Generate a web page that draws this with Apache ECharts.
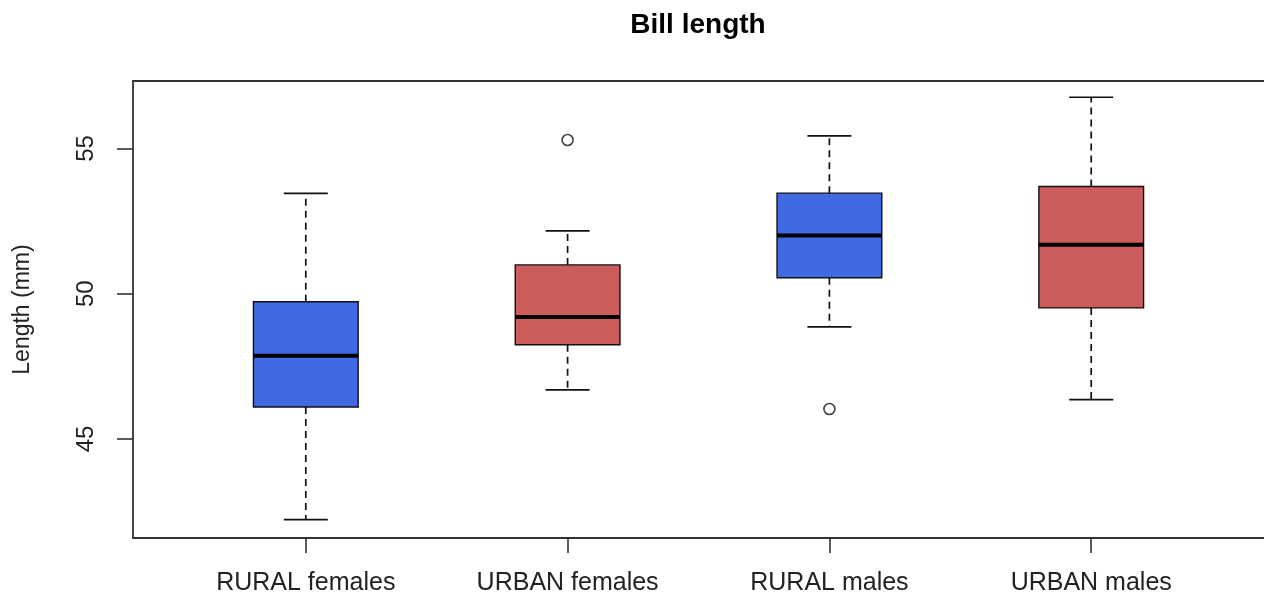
<!DOCTYPE html>
<html>
<head>
<meta charset="utf-8">
<script src="https://cdn.jsdelivr.net/npm/echarts@6/dist/echarts.min.js"></script>
<style>
html,body{margin:0;padding:0;background:#fff;}
#chart{width:1264px;height:596px;}
</style>
</head>
<body>
<div id="chart"></div>
<script>
const categories = ['RURAL females', 'URBAN females', 'RURAL males', 'URBAN males'];
const lowWhisker = [42.22, 46.69, 48.86, 46.35];
const q1 = [46.10, 48.24, 50.55, 49.51];
const median = [47.86, 49.20, 52.00, 51.68];
const q3 = [49.72, 50.99, 53.46, 53.69];
const highWhisker = [53.45, 52.16, 55.43, 56.76];
const outlierGroup = [2, 3];
const outlierValue = [55.29, 46.03];
const boxColors = ['#4169E1', '#CD5C5C', '#4169E1', '#CD5C5C'];
const yTicks = [45, 50, 55];
const xTicks = [1, 2, 3, 4];

const boxData = categories.map((c, i) => [i + 1, lowWhisker[i], q1[i], median[i], q3[i], highWhisker[i]]);
const outlierData = outlierGroup.map((g, i) => [g, outlierValue[i]]);

const BOX_W = 0.40, CAP_W = 0.168;
const FONT = '"Liberation Sans", Arial, sans-serif';
const FRAME = { color: '#333', width: 1.8 };

function renderBox(params, api) {
  const x = api.value(0);
  const lo = api.coord([x, api.value(1)]);
  const b1 = api.coord([x, api.value(2)]);
  const md = api.coord([x, api.value(3)]);
  const b3 = api.coord([x, api.value(4)]);
  const hi = api.coord([x, api.value(5)]);
  const hb = api.size([BOX_W, 0])[0] / 2;
  const hc = api.size([CAP_W, 0])[0] / 2;
  const cx = lo[0];
  const dash = { stroke: '#111', lineWidth: 1.7, lineDash: [7, 5], fill: null };
  const solid = { stroke: '#111', lineWidth: 1.7, fill: null };
  return {
    type: 'group',
    children: [
      { type: 'line', shape: { x1: cx, y1: b3[1], x2: cx, y2: hi[1] }, style: dash },
      { type: 'line', shape: { x1: cx, y1: b1[1], x2: cx, y2: lo[1] }, style: dash },
      { type: 'line', shape: { x1: cx - hc, y1: hi[1], x2: cx + hc, y2: hi[1] }, style: solid },
      { type: 'line', shape: { x1: cx - hc, y1: lo[1], x2: cx + hc, y2: lo[1] }, style: solid },
      { type: 'rect', shape: { x: cx - hb, y: b3[1], width: hb * 2, height: b1[1] - b3[1] },
        style: { fill: boxColors[params.dataIndex], stroke: '#111', lineWidth: 1.4 } },
      { type: 'line', shape: { x1: cx - hb, y1: md[1], x2: cx + hb, y2: md[1] },
        style: { stroke: '#000', lineWidth: 4 } }
    ]
  };
}

const chart = echarts.init(document.getElementById('chart'), null, { renderer: 'canvas' });
chart.setOption({
  animation: false,
  backgroundColor: '#fff',
  title: {
    text: 'Bill length',
    left: 693, top: 6,
    textAlign: 'center',
    textStyle: { fontFamily: FONT, fontSize: 28, fontWeight: 'bold', color: '#000' }
  },
  grid: {
    left: 133, top: 81, width: 1133, height: 457, show: false
  },
  xAxis: [
    {
      type: 'value', min: 0.34, max: 4.66, position: 'bottom',
      axisLine: { show: true, onZero: false, lineStyle: FRAME },
      splitLine: { show: false },
      axisTick: { show: true, customValues: xTicks, length: 15, lineStyle: { color: '#333', width: 1.6 } },
      axisLabel: {
        customValues: xTicks, margin: 33,
        formatter: v => categories[Math.round(v) - 1],
        fontFamily: FONT, fontSize: 25, color: '#222'
      }
    },
    {
      type: 'value', min: 0.34, max: 4.66, position: 'top',
      axisLine: { show: true, onZero: false, lineStyle: FRAME },
      splitLine: { show: false },
      axisTick: { show: false },
      axisLabel: { show: false }
    }
  ],
  yAxis: {
    type: 'value', min: 41.59, max: 57.32,
    name: 'Length (mm)', nameLocation: 'middle', nameGap: 99,
    nameTextStyle: { fontFamily: FONT, fontSize: 23, color: '#222' },
    axisLine: { show: true, onZero: false, lineStyle: FRAME },
    splitLine: { show: false },
    axisTick: { show: true, customValues: yTicks, length: 16, lineStyle: { color: '#333', width: 1.6 } },
    axisLabel: {
      customValues: yTicks, rotate: 90, margin: 35,
      fontFamily: FONT, fontSize: 24, color: '#222'
    }
  },
  series: [
    {
      type: 'custom',
      renderItem: renderBox,
      data: boxData,
      xAxisIndex: 0,
      encode: { x: 0, y: [1, 2, 3, 4, 5] },
      z: 2
    },
    {
      type: 'scatter',
      data: outlierData,
      xAxisIndex: 0,
      symbol: 'circle',
      symbolSize: 11,
      itemStyle: { color: '#fff', borderColor: '#111', borderWidth: 1.6 },
      z: 3
    }
  ]
});
</script>
</body>
</html>
